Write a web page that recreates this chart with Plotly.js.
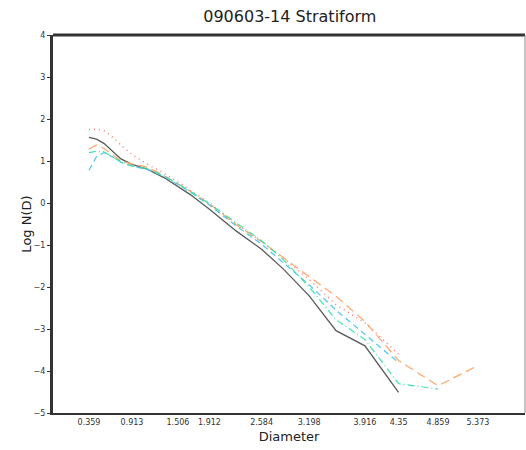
<!DOCTYPE html>
<html><head><meta charset="utf-8">
<script src="https://cdn.plot.ly/plotly-3.0.1.min.js"></script>
<style>html,body{margin:0;padding:0;background:#fff}#c{width:526px;height:450px}</style>
</head><body><div id="c"></div>
<script>
var diameter = [0.359,0.455,0.551,0.656,0.771,0.913,1.116,1.331,1.506,1.665,1.912,2.259,2.584,2.869,3.198,3.544,3.916,4.35,4.859,5.373];
var tickLabels = ["0.359","0.913","1.506","1.912","2.584","3.198","3.916","4.35","4.859","5.373"];
var tickVals = [0.359,0.913,1.506,1.912,2.584,3.198,3.916,4.35,4.859,5.373];
var seriesBlack  = [1.56,1.52,1.42,1.25,1.05,0.92,0.80,0.60,0.38,0.20,-0.15,-0.67,-1.10,-1.58,-2.21,-3.04,-3.40,-4.51,null,null];
var seriesRed    = [1.75,1.76,1.72,1.58,1.38,1.15,0.92,0.70,0.50,0.31,0.00,-0.50,-0.92,-1.32,-1.82,-2.42,-2.85,-3.60,null,null];
var seriesOrange = [1.28,1.38,1.30,1.15,1.00,0.93,0.85,0.65,0.46,0.28,-0.02,-0.52,-0.92,-1.30,-1.76,-2.22,-2.82,-3.75,-4.35,-3.87];
var seriesCyan   = [0.78,1.10,1.20,1.10,0.97,0.88,0.80,0.63,0.44,0.26,-0.05,-0.55,-0.98,-1.42,-1.95,-2.55,-3.12,-3.80,null,null];
var seriesGreen  = [1.20,1.23,1.22,1.10,0.98,0.88,0.82,0.64,0.46,0.28,-0.02,-0.48,-0.90,-1.36,-2.00,-2.78,-3.25,-4.30,-4.43,null];

function tr(y, color, dash, w){
  return {x: diameter, y: y, type:'scatter', mode:'lines', connectgaps:false,
    line:{color:color, dash:dash, width:w}, hoverinfo:'none'};
}
var data = [
  tr(seriesBlack, '#5a5a5a', 'solid', 1.3),
  tr(seriesRed, '#ff7a7a', '1px,4px', 1.5),
  tr(seriesOrange, '#ffa668', '9px,5px', 1.2),
  tr(seriesCyan, '#48c4f4', '6px,4px', 1.2),
  tr(seriesGreen, '#40e4a8', '7px,3px,1px,3px', 1.2)
];
var layout = {
  width:526, height:450,
  margin:{l:53, r:1, t:35, b:37},
  showlegend:false,
  paper_bgcolor:'#fff', plot_bgcolor:'#fff',
  font:{family:'DejaVu Sans, sans-serif', color:'#222'},
  title:{text:'090603-14 Stratiform', font:{size:16, color:'#222'}, x:0.551, xanchor:'center', y:0.975, yanchor:'top'},
  xaxis:{range:[-0.105,5.98], tickvals:tickVals, ticktext:tickLabels, ticks:'', showgrid:false, zeroline:false,
    showline:true, linecolor:'#333', linewidth:2, tickfont:{size:8, color:'#333'},
    title:{text:'Diameter', font:{size:13, color:'#222'}, standoff:6}},
  yaxis:{range:[-5,4], dtick:1, ticks:'outside', ticklen:3, tickwidth:1, tickcolor:'#333', showgrid:false, zeroline:false,
    showline:true, linecolor:'#333', linewidth:3, tickfont:{size:8, color:'#333'},
    title:{text:'Log N(D)', font:{size:13, color:'#222'}, standoff:0}},
  shapes:[
    {type:'line', xref:'paper', yref:'paper', x0:0, x1:1, y0:1, y1:1, line:{color:'#333', width:3}},
    {type:'line', xref:'paper', yref:'paper', x0:1, x1:1, y0:0, y1:1, line:{color:'#888', width:1}}
  ]
};
Plotly.newPlot('c', data, layout, {displayModeBar:false, staticPlot:true});
</script></body></html>
